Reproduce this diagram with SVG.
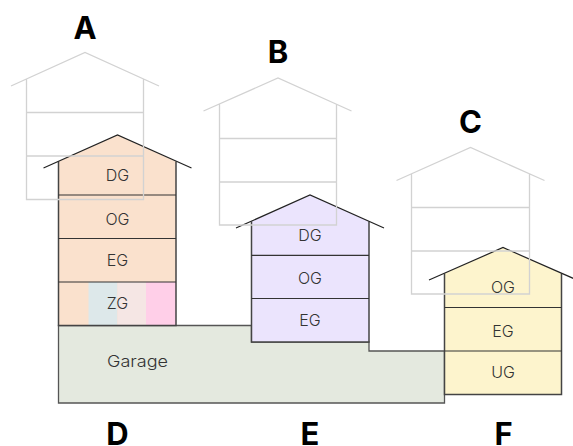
<svg xmlns="http://www.w3.org/2000/svg" width="573" height="446" viewBox="0 0 573 446">
<style>
text{font-family:"Inter","Liberation Sans",sans-serif}
.big{font-size:31px;font-weight:700;fill:#000;text-anchor:middle}
.lbl{font-size:16px;fill:#333;text-anchor:middle;font-weight:300}
.out{fill:none;stroke:#444;stroke-width:1.5}
.flr{fill:none;stroke:#333;stroke-width:1.2}
.roof{fill:none;stroke:#222;stroke-width:1.2}
.ghost{fill:none;stroke:#d2d2d2;stroke-width:1.3}
</style>
<rect width="573" height="446" fill="#fff"/>
<g id="garage">
<path d="M58.500 325.500H251.500V342H369V351H444.500V403H58.500Z" fill="#e4e9df" stroke="#555" stroke-width="1.300"/>
<text class="lbl" x="137.500" y="366.500" textLength="61" lengthAdjust="spacingAndGlyphs">Garage</text>
</g>
<g id="house-D">
<path d="M58.500 161.500L117.500 135L176 161.500V325.500H58.500Z" fill="#fae1cd"/>
<rect x="88.500" y="282" width="29" height="43.500" fill="#dde8ea"/>
<rect x="117.500" y="282" width="28.500" height="43.500" fill="#f5e6e4"/>
<rect x="146" y="282" width="30" height="43.500" fill="#ffcfe8"/>
<path class="out" d="M58.500 161.500V325.500H176V161.500"/>
<path class="flr" d="M58.500 195H176M58.500 238.500H176M58.500 282H176"/>
<path class="roof" d="M43.500 168L117.500 135L191.500 168"/>
<text class="lbl" x="117.500" y="181">DG</text>
<text class="lbl" x="117.500" y="224.500">OG</text>
<text class="lbl" x="117.500" y="266">EG</text>
<text class="lbl" x="117.500" y="308.500">ZG</text>
</g>
<g id="house-E">
<path d="M251.500 221.500L310 195L369 221.500V342H251.500Z" fill="#ebe4fd"/>
<path class="out" d="M251.500 221.500V342H369V221.500"/>
<path class="flr" d="M251.500 255.300H369M251.500 298.500H369"/>
<path class="roof" d="M236 228L310 195L384 228"/>
<text class="lbl" x="310" y="241">DG</text>
<text class="lbl" x="310" y="284">OG</text>
<text class="lbl" x="310" y="326">EG</text>
</g>
<g id="house-F">
<path d="M444.500 273.500L503 247.500L561.500 273.500V394.500H444.500Z" fill="#fdf4cd"/>
<path class="out" d="M444.500 273.500V394.500H561.500V273.500"/>
<path class="flr" d="M444.500 307.500H561.500M444.500 351H561.500"/>
<path class="roof" d="M429 280L503 247.500L577 280"/>
<text class="lbl" x="503" y="292.500">OG</text>
<text class="lbl" x="503" y="336.500">EG</text>
<text class="lbl" x="503" y="377.500">UG</text>
</g>
<g id="house-A">
<path class="ghost" d="M11 86L85 52.500L159 86M26.500 79V199.500H143.500V79M26.500 112.500H143.500M26.500 156H143.500"/>
<text class="big" x="85" y="38.500">A</text>
</g>
<g id="house-B">
<path class="ghost" d="M203.500 111L278 78L351.500 111M219.500 104V225H336.500V104M219.500 138.500H336.500M219.500 182H336.500"/>
<text class="big" x="278" y="63">B</text>
</g>
<g id="house-C">
<path class="ghost" d="M396.500 180.500L470.500 147.500L544.500 180.500M411.500 174V294H529.500V174M411.500 207.500H529.500M411.500 251H529.500"/>
<text class="big" x="470.500" y="132.500">C</text>
</g>
<text class="big" x="117.500" y="445">D</text>
<text class="big" x="310" y="445">E</text>
<text class="big" x="503.500" y="445">F</text>
<g id="connectors"/>
</svg>
